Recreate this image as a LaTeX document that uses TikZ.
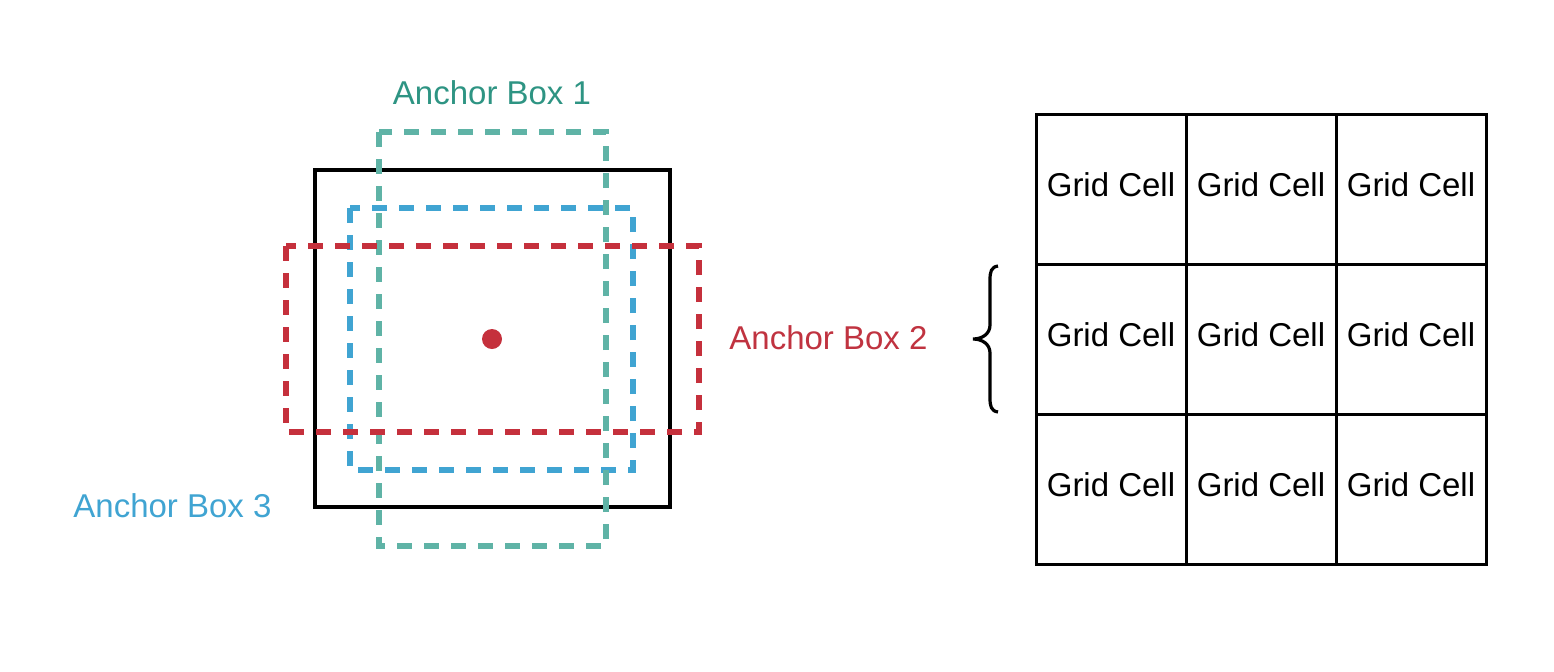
\documentclass[tikz,border=0pt]{standalone}
\usepackage{fontspec}
\setmainfont{Liberation Sans}
\definecolor{tealline}{HTML}{5FB3A6}
\definecolor{tealtext}{HTML}{2E9483}
\definecolor{blueline}{HTML}{40A4D2}
\definecolor{redline}{HTML}{C5303C}
\definecolor{redtext}{HTML}{C03340}
\begin{document}
\begin{tikzpicture}[x=0.5pt,y=-0.5pt]
\tikzset{
  abox/.style={line width=3pt, dash pattern=on 7.5pt off 6pt},
  lbl/.style={font=\fontsize{16.5}{20}\selectfont, inner sep=0pt},
  cell/.style={draw, line width=1.5pt, minimum width=75pt, minimum height=75pt, inner sep=0pt, text depth=4pt, font=\fontsize{16.5}{20}\selectfont}
}
\useasboundingbox (0,0) rectangle (1554,671);
% ground truth box
\draw[line width=1.8pt] (315,170) rectangle (670,507);
% anchor boxes
\draw[abox, blueline] (350,208) rectangle (633,470);
\draw[abox, tealline] (379,132) rectangle (606,546);
\draw[abox, redline] (286,246) rectangle (699,432);
\fill[redline] (492,339) circle (5pt);
% labels
\node[lbl, text=tealtext] (l1) at (492,93) {Anchor Box 1};
\node[lbl, text=redtext, anchor=west] (l2) at (729,338) {Anchor Box 2};
\node[lbl, text=blueline, anchor=west] (l3) at (73,506) {Anchor Box 3};
% grid
\foreach \r in {1,2,3}{
  \foreach \c in {1,2,3}{
    \node[cell] (c\r\c) at ({1036+75+150*(\c-1)},{114+75+150*(\r-1)}) {Grid Cell};
  }
}
% brace
\draw[line width=1.6pt] (998,266) .. controls (991,267) and (990,272) .. (990,280)
  -- (990,325) .. controls (990,334) and (982,339) .. (973,339)
  .. controls (982,339) and (990,344) .. (990,353)
  -- (990,398) .. controls (990,406) and (991,411) .. (998,412);
\end{tikzpicture}
\end{document}
